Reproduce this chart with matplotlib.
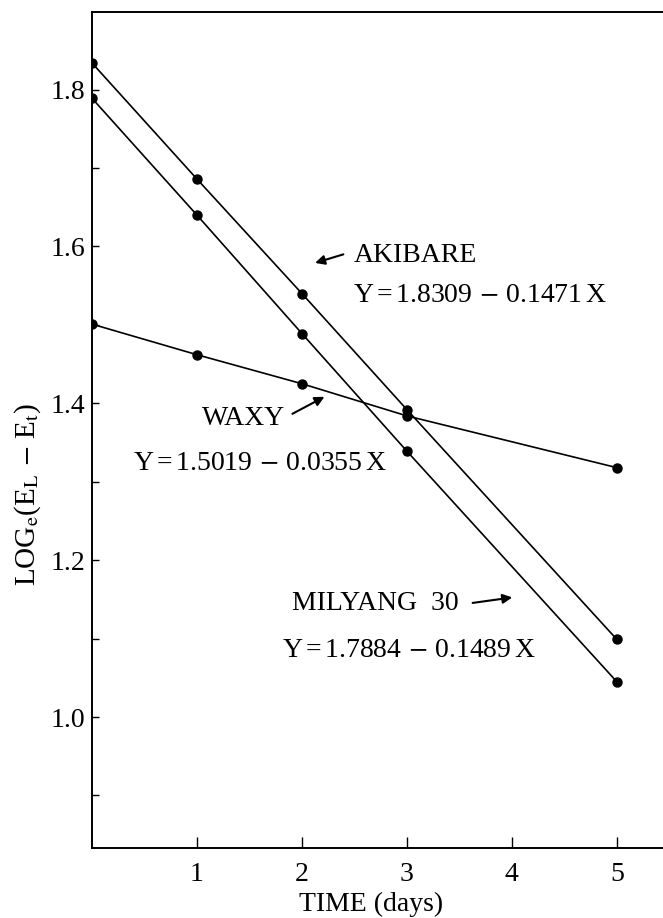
import matplotlib
matplotlib.use("Agg")
import matplotlib.pyplot as plt
from matplotlib.ticker import MultipleLocator, FixedLocator

days = [0, 1, 2, 3, 5]
akibare = [1.834, 1.686, 1.540, 1.392, 1.099]
milyang30 = [1.789, 1.640, 1.489, 1.339, 1.045]
waxy = [1.501, 1.462, 1.425, 1.384, 1.318]

x_ticks = [1, 2, 3, 4, 5]
y_ticks = [1.0, 1.2, 1.4, 1.6, 1.8]

plt.rcParams['font.family'] = ['Liberation Serif', 'DejaVu Serif']
plt.rcParams['mathtext.fontset'] = 'stix'

fig = plt.figure(figsize=(6.63, 9.18), dpi=100)
ax = fig.add_axes([92/663, 70/918, 1 - 92/663, 836/918])

for vals in (akibare, milyang30, waxy):
    ax.plot(days, vals, color='black', lw=1.2, marker='o', markersize=6.5)

ax.set_xlim(0, 5.44)
ax.set_ylim(0.833, 1.899)
ax.spines['right'].set_visible(False)
for s in ('left', 'bottom', 'top'):
    ax.spines[s].set_linewidth(1.4)

ax.xaxis.set_major_locator(FixedLocator(x_ticks))
ax.yaxis.set_major_locator(FixedLocator(y_ticks))
ax.yaxis.set_minor_locator(MultipleLocator(0.1))
ax.set_yticklabels([f'{v:.1f}' for v in y_ticks])
ax.tick_params(axis='x', direction='in', length=8, width=1, pad=10, labelsize=20)
ax.tick_params(axis='y', which='both', direction='in', length=5, width=1, pad=5, labelsize=20)
ax.tick_params(top=False, right=False)

ax.set_xlabel('TIME (days)', fontsize=20)
ax.xaxis.set_label_coords(0.489, -0.052)
ax.set_ylabel(r'LOG$_\mathrm{e}$(E$_\mathrm{L}$$\,-\,$E$_\mathrm{t}$)', fontsize=21)
ax.yaxis.set_label_coords(-0.085, 0.423)


def eq(a, b):
    # regression label as printed on the chart
    return r'Y$\,$=$\,$' + a + r'$\,-\,$' + b + r'$\,$X'


arrow = dict(arrowstyle='-|>', color='black', lw=1.5, mutation_scale=14)
fs = 20
ax.annotate('', xy=(2.10, 1.578), xytext=(2.42, 1.591), arrowprops=arrow)
ax.text(2.49, 1.589, 'AKIBARE', fontsize=fs, va='center', ha='left')
ax.text(2.49, 1.538, eq('1.8309', '0.1471'), fontsize=fs, va='center', ha='left')

ax.annotate('', xy=(2.238, 1.410), xytext=(1.886, 1.385), arrowprops=arrow)
ax.text(1.05, 1.381, 'WAXY', fontsize=fs, va='center', ha='left')
ax.text(0.39, 1.3236, eq('1.5019', '0.0355'), fontsize=fs, va='center', ha='left')

ax.annotate('', xy=(4.03, 1.153), xytext=(3.60, 1.145), arrowprops=arrow)
ax.text(1.91, 1.145, 'MILYANG  30', fontsize=fs, va='center', ha='left')
ax.text(1.81, 1.085, eq('1.7884', '0.1489'), fontsize=fs, va='center', ha='left')

fig.savefig('out.png', dpi=100)
